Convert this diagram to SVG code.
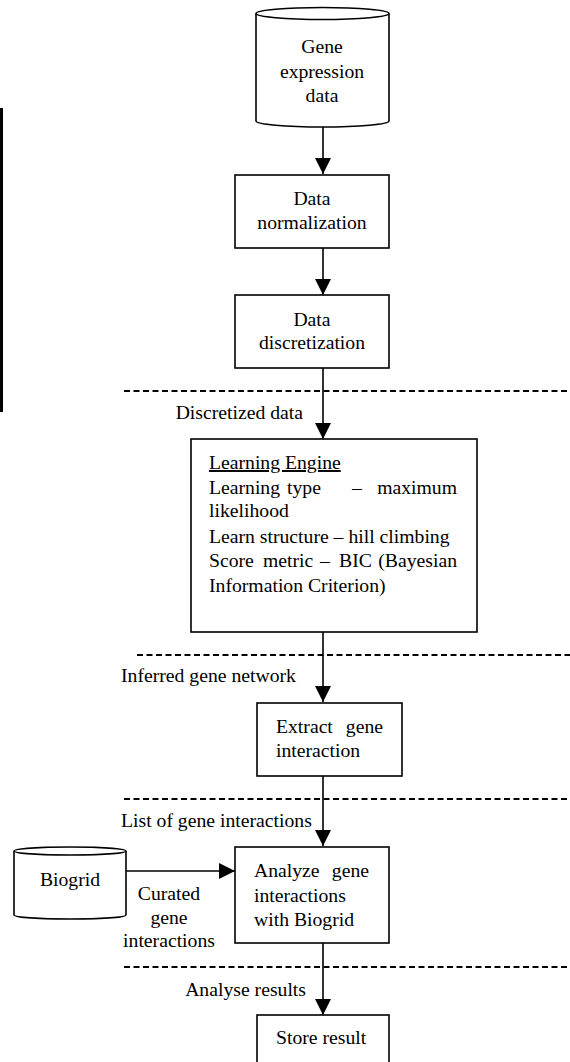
<svg xmlns="http://www.w3.org/2000/svg" width="570" height="1062" viewBox="0 0 570 1062">
<style>
text{font-family:"Liberation Serif","Times New Roman",serif;font-size:19.7px;fill:#000}
.c{text-anchor:middle}
.e{text-anchor:end}
.box{fill:#fff;stroke:#000;stroke-width:1.6}
.line{fill:none;stroke:#000;stroke-width:1.6}
.dash{fill:none;stroke:#000;stroke-width:1.8;stroke-dasharray:6 3.5}
</style>
<defs>
<marker id="ah" markerUnits="userSpaceOnUse" markerWidth="16" markerHeight="16" viewBox="0 0 16 16" refX="16" refY="8" orient="auto">
<path d="M0,0 L16,8 L0,16 Z" fill="#000"/>
</marker>
</defs>
<rect width="570" height="1062" fill="#fff"/>
<rect x="0" y="108" width="3" height="304" fill="#000"/>
<g id="separators">
<line class="dash" x1="124" y1="391" x2="570" y2="391"/>
<line class="dash" x1="137" y1="655" x2="570" y2="655"/>
<line class="dash" x1="124" y1="799" x2="570" y2="799"/>
<line class="dash" x1="124" y1="967" x2="570" y2="967"/>
</g>
<g id="connectors">
<line class="line" x1="323" y1="127" x2="323" y2="174" marker-end="url(#ah)"/>
<line class="line" x1="323" y1="248" x2="323" y2="295" marker-end="url(#ah)"/>
<line class="line" x1="323" y1="368" x2="323" y2="439" marker-end="url(#ah)"/>
<line class="line" x1="323" y1="632" x2="323" y2="702" marker-end="url(#ah)"/>
<line class="line" x1="323" y1="776" x2="323" y2="846" marker-end="url(#ah)"/>
<line class="line" x1="323" y1="943" x2="323" y2="1015" marker-end="url(#ah)"/>
<line class="line" x1="126" y1="871" x2="235" y2="871" marker-end="url(#ah)"/>
<text x="303" y="419" class="e">Discretized data</text>
<text x="121" y="682">Inferred gene network</text>
<text x="121" y="827">List of gene interactions</text>
<text x="306" y="996" class="e">Analyse results</text>
<text class="c" x="169" y="900">Curated</text>
<text class="c" x="169" y="924">gene</text>
<text class="c" x="169" y="947">interactions</text>
</g>
<g id="gene-expression-data">
<path class="box" d="M256,13.5 L256,121 A66.5,6 0 0 0 389,121 L389,13.5"/>
<ellipse class="box" cx="322.5" cy="13.5" rx="66.5" ry="6"/>
<text class="c" x="322" y="53">Gene</text>
<text class="c" x="322" y="78">expression</text>
<text class="c" x="322" y="102">data</text>
</g>
<g id="data-normalization">
<rect class="box" x="235" y="175" width="154" height="73"/>
<text class="c" x="312" y="205">Data</text>
<text class="c" x="312" y="229">normalization</text>
</g>
<g id="data-discretization">
<rect class="box" x="235" y="295" width="154" height="73"/>
<text class="c" x="312" y="326">Data</text>
<text class="c" x="312" y="349">discretization</text>
</g>
<g id="learning-engine">
<rect class="box" x="191" y="439" width="286" height="193"/>
<text x="209" y="469" text-decoration="underline">Learning Engine</text>
<text y="494"><tspan x="209">Learning</tspan><tspan x="287">type</tspan><tspan x="352">–</tspan></text>
<text x="457" y="494" class="e">maximum</text>
<text x="209" y="517">likelihood</text>
<text x="209" y="543">Learn structure – hill climbing</text>
<text y="567"><tspan x="209">Score</tspan><tspan x="263">metric</tspan><tspan x="320">–</tspan><tspan x="339">BIC</tspan></text>
<text x="457" y="567" class="e">(Bayesian</text>
<text x="209" y="592">Information Criterion)</text>
</g>
<g id="extract-gene-interaction">
<rect class="box" x="257" y="703" width="145" height="73"/>
<text x="276" y="733">Extract</text>
<text x="383" y="733" class="e">gene</text>
<text x="276" y="757">interaction</text>
</g>
<g id="biogrid">
<path class="box" d="M14,851 L14,915 A56,4 0 0 0 126,915 L126,851"/>
<ellipse class="box" cx="70" cy="851" rx="56" ry="4"/>
<text class="c" x="70" y="886">Biogrid</text>
</g>
<g id="analyze-gene-interactions">
<rect class="box" x="235" y="847" width="154" height="96"/>
<text x="254" y="877">Analyze</text>
<text x="369" y="877" class="e">gene</text>
<text x="254" y="902">interactions</text>
<text x="254" y="926">with Biogrid</text>
</g>
<g id="store-result">
<rect class="box" x="257" y="1015" width="132" height="60"/>
<text x="276" y="1044">Store result</text>
</g>
</svg>
